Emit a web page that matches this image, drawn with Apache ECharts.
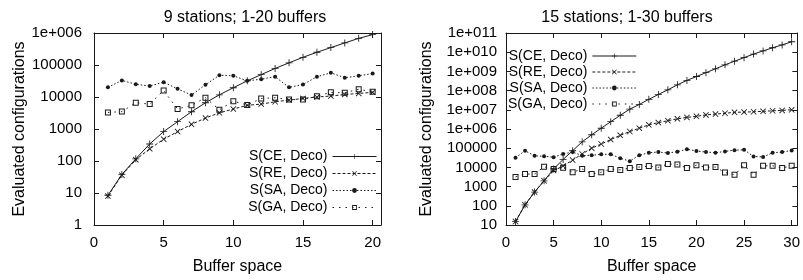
<!DOCTYPE html>
<html>
<head>
<meta charset="utf-8">
<script src="https://cdn.jsdelivr.net/npm/echarts@6/dist/echarts.min.js"></script>
<style>
  html, body { margin: 0; padding: 0; background: #fff; }
  #chart { width: 803px; height: 280px; }
</style>
</head>
<body>
<div id="chart"></div>
<script>
// 9 stations, buffer space 1-20
const buffers9 = [1, 2, 3, 4, 5, 6, 7, 8, 9, 10, 11, 12, 13, 14, 15, 16, 17, 18, 19, 20]
const ce9 = [8.5, 38, 117, 340, 830, 1700, 3470, 6600, 11700, 19500, 32000, 50000, 78000, 117000, 174000, 250000, 350000, 490000, 680000, 890000]
const re9 = [8, 36, 110, 240, 480, 830, 1400, 2200, 3200, 4200, 5500, 6000, 7100, 8000, 9000, 10000, 10700, 12000, 12900, 14000]
const sa9 = [20000, 33000, 25000, 22000, 29000, 18000, 11500, 24000, 48000, 46000, 32000, 36000, 43000, 20000, 24500, 43000, 57000, 40000, 46000, 54000]
const ga9 = [3300, 3500, 6600, 6000, 16000, 4200, 5500, 9500, 4000, 7400, 5600, 9000, 9500, 8300, 8300, 10500, 14000, 13500, 17500, 14500]

// 15 stations, buffer space 1-30
const buffers15 = [1, 2, 3, 4, 5, 6, 7, 8, 9, 10, 11, 12, 13, 14, 15, 16, 17, 18, 19, 20, 21, 22, 23, 24, 25, 26, 27, 28, 29, 30]
const ce15 = [15, 112, 520, 2000, 8300, 26000, 74000, 215000, 500000, 1.1e6, 2.4e6, 5.2e6, 1.08e7, 1.9e7, 3.5e7, 6.3e7, 1.1e8, 2e8, 3.4e8, 5.4e8, 8.6e8, 1.36e9, 2.2e9, 3.4e9, 5.2e9, 8e9, 1.17e10, 1.7e10, 2.4e10, 3.5e10]
const re15 = [15, 112, 520, 2000, 6800, 12000, 24000, 50000, 100000, 165000, 280000, 470000, 740000, 1.1e6, 1.65e6, 2.15e6, 2.7e6, 3.4e6, 4e6, 4.6e6, 5.4e6, 6e6, 6.6e6, 7.4e6, 7.6e6, 7.9e6, 8.3e6, 8.9e6, 9.3e6, 1e7]
const sa15 = [32000, 74000, 40000, 38000, 34000, 50000, 63000, 41000, 43000, 48000, 48000, 30000, 21000, 43000, 58000, 63000, 56000, 66000, 89000, 71000, 63000, 58000, 68000, 79000, 83000, 37000, 35000, 58000, 63000, 76000]
const ga15 = [3200, 4500, 4500, 10800, 8300, 9600, 5600, 8300, 4500, 5600, 8300, 7400, 9300, 10400, 11700, 10000, 15200, 14100, 9300, 13100, 10000, 10400, 5400, 4100, 13100, 4100, 12100, 12100, 9300, 12100]

const seriesNames = ['S(CE, Deco)', 'S(RE, Deco)', 'S(SA, Deco)', 'S(GA, Deco)']

const ink = '#1a1a1a'
const plusSym = 'path://M4.4,0H5.6V4.4H10V5.6H5.6V10H4.4V5.6H0V4.4H4.4Z'
const crossSym = 'path://M1,0L5,4L9,0L10,1L6,5L10,9L9,10L5,6L1,10L0,9L4,5L0,1Z'
// hollow square drawn as a ring (outer clockwise, inner counter-clockwise)
const boxSym = 'path://M0,0H10V10H0ZM1.7,1.7V8.3H8.3V1.7Z'
const font = 'Liberation Sans, Arial, Helvetica, sans-serif'

function logLabel (v) {
  if (v >= 1e6) {
    const e = Math.round(Math.log10(v))
    return '1e+' + String(e).padStart(3, '0')
  }
  return String(Math.round(v))
}

function xAxes (gridIndex, max) {
  const base = {
    gridIndex,
    type: 'value',
    min: 0,
    max,
    interval: 5,
    splitLine: { show: false },
    axisLine: { show: true, onZero: false, lineStyle: { color: ink, width: 1 } },
    axisTick: { show: true, inside: true, length: 5, lineStyle: { color: ink } }
  }
  return [
    Object.assign({}, base, {
      position: 'bottom',
      name: 'Buffer space',
      nameLocation: 'middle',
      nameGap: 34,
      nameTextStyle: { color: '#000', fontSize: 16, fontFamily: font },
      axisLabel: { color: '#000', fontSize: 15, fontFamily: font, margin: 10, showMaxLabel: false }
    }),
    Object.assign({}, base, { position: 'top', axisLabel: { show: false } })
  ]
}

function yAxes (gridIndex, min, max, gap, labelMargin) {
  const base = {
    gridIndex,
    type: 'log',
    logBase: 10,
    min,
    max,
    interval: 1,
    splitLine: { show: false },
    axisLine: { show: true, onZero: false, lineStyle: { color: ink, width: 1 } },
    axisTick: { show: true, inside: true, length: 5, lineStyle: { color: ink } }
  }
  return [
    Object.assign({}, base, {
      position: 'left',
      name: 'Evaluated configurations',
      nameLocation: 'middle',
      nameGap: gap,
      nameTextStyle: { color: '#000', fontSize: 16, fontFamily: font },
      axisLabel: { color: '#000', fontSize: 15, fontFamily: font, margin: labelMargin, formatter: logLabel }
    }),
    Object.assign({}, base, { position: 'right', axisLabel: { show: false } })
  ]
}

function makeSeries (xs, data, k, xi, yi) {
  const styles = [
    { symbol: plusSym, symbolSize: 7, type: 'solid' },
    { symbol: crossSym, symbolSize: 6, type: [3, 2] },
    { symbol: 'circle', symbolSize: 4, type: [1.5, 2] },
    { symbol: boxSym, symbolSize: 6, type: [1.5, 5] }
  ]
  const s = styles[k]
  return {
    name: seriesNames[k],
    type: 'line',
    xAxisIndex: xi,
    yAxisIndex: yi,
    data: xs.map((x, i) => [x, data[i]]),
    symbol: s.symbol,
    symbolSize: s.symbolSize,
    showAllSymbol: true,
    lineStyle: { color: ink, width: 1, type: s.type },
    itemStyle: { color: ink, borderWidth: 0 },
    animation: false
  }
}

function legend (pos, lineHeight) {
  return Object.assign({
    orient: 'vertical',
    align: 'right',
    padding: 0,
    itemWidth: 44,
    itemHeight: 6,
    itemGap: 0,
    selectedMode: false,
    lineStyle: { width: 1 },
    textStyle: { color: '#000', fontSize: 14, lineHeight, fontFamily: font },
    data: seriesNames.map(n => ({ name: n })),
    backgroundColor: 'transparent'
  }, pos)
}

const chart = echarts.init(document.getElementById('chart'), null, { renderer: 'canvas' })

const xs = [].concat(xAxes(0, 20.6), xAxes(1, 30.6))
const ys = [].concat(yAxes(0, 1, 1e6, 66, 12), yAxes(1, 10, 1e11, 71, 9))

const series = []
;[ce9, re9, sa9, ga9].forEach((d, k) => series.push(makeSeries(buffers9, d, k, 0, 0)))
;[ce15, re15, sa15, ga15].forEach((d, k) => series.push(makeSeries(buffers15, d, k, 2, 2)))

chart.setOption({
  backgroundColor: '#fff',
  animation: false,
  title: [
    { text: '9 stations; 1-20 buffers', left: 240, top: 5, textAlign: 'center', textStyle: { color: '#000', fontSize: 16, fontWeight: 'normal', fontFamily: font } },
    { text: '15 stations; 1-30 buffers', left: 622, top: 5, textAlign: 'center', textStyle: { color: '#000', fontSize: 16, fontWeight: 'normal', fontFamily: font } }
  ],
  grid: [
    { left: 94, top: 33, width: 287, height: 200 },
    { left: 506, top: 33, width: 294, height: 200 }
  ],
  legend: [
    legend({ right: 426, top: 148 }, 17),
    legend({ left: 508, top: 48 }, 16)
  ],
  xAxis: xs,
  yAxis: ys,
  series
})
</script>
</body>
</html>
